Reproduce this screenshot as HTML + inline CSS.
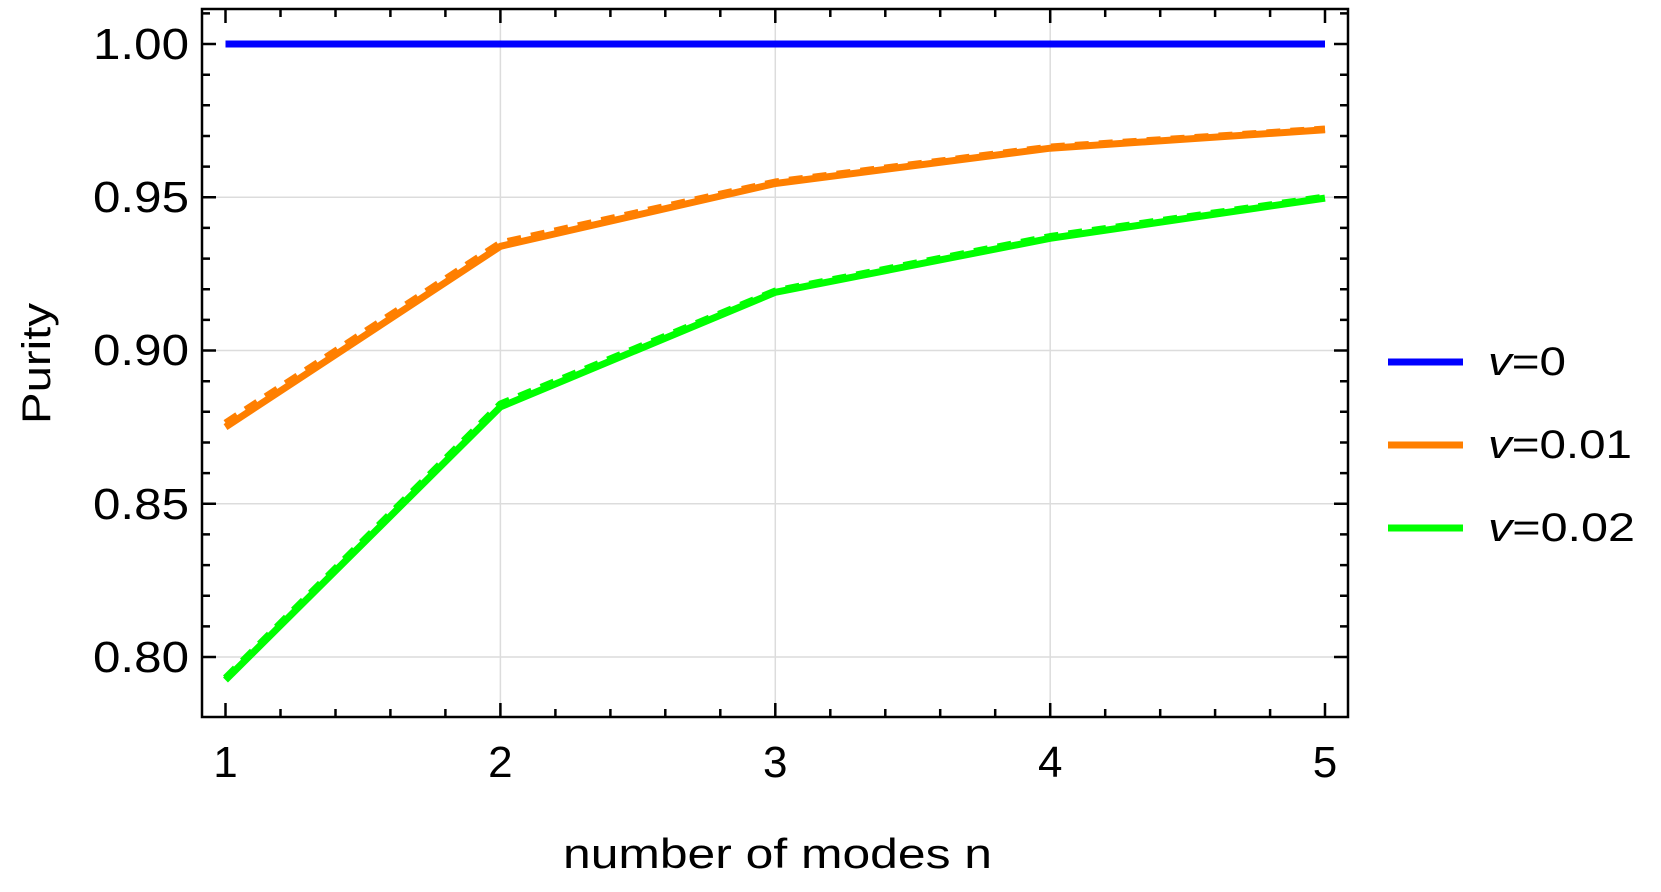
<!DOCTYPE html>
<html><head><meta charset="utf-8"><style>
html,body{margin:0;padding:0;background:#fff;}
svg{display:block;}
text{font-family:"Liberation Sans","DejaVu Sans",sans-serif;fill:#000;}
</style></head><body>
<svg width="1661" height="892" viewBox="0 0 1661 892" xmlns="http://www.w3.org/2000/svg">
<g stroke="#dcdcdc" stroke-width="1.5">
<line x1="202" x2="1348" y1="197.3" y2="197.3"/>
<line x1="202" x2="1348" y1="350.5" y2="350.5"/>
<line x1="202" x2="1348" y1="503.8" y2="503.8"/>
<line x1="202" x2="1348" y1="657" y2="657"/>
<line x1="500.4" x2="500.4" y1="9" y2="717"/>
<line x1="775.3" x2="775.3" y1="9" y2="717"/>
<line x1="1050.2" x2="1050.2" y1="9" y2="717"/>
</g>
<g stroke="#000" stroke-width="2.5">
<path d="M225.5 717v-14M280.5 717v-8M335.5 717v-8M390.4 717v-8M445.4 717v-8M500.4 717v-14M555.4 717v-8M610.4 717v-8M665.3 717v-8M720.3 717v-8M775.3 717v-14M830.3 717v-8M885.3 717v-8M940.2 717v-8M995.2 717v-8M1050.2 717v-14M1105.2 717v-8M1160.2 717v-8M1215.1 717v-8M1270.1 717v-8M1325 717v-14"/>
<path d="M225.5 9v14M280.5 9v8M335.5 9v8M390.4 9v8M445.4 9v8M500.4 9v14M555.4 9v8M610.4 9v8M665.3 9v8M720.3 9v8M775.3 9v14M830.3 9v8M885.3 9v8M940.2 9v8M995.2 9v8M1050.2 9v14M1105.2 9v8M1160.2 9v8M1215.1 9v8M1270.1 9v8M1325 9v14"/>
<path d="M202 13.4h8M202 44h14M202 74.7h8M202 105.3h8M202 136h8M202 166.6h8M202 197.3h14M202 227.9h8M202 258.6h8M202 289.2h8M202 319.9h8M202 350.5h14M202 381.2h8M202 411.8h8M202 442.5h8M202 473.1h8M202 503.8h14M202 534.4h8M202 565.1h8M202 595.7h8M202 626.4h8M202 657h14"/>
<path d="M1348 13.4h-8M1348 44h-14M1348 74.7h-8M1348 105.3h-8M1348 136h-8M1348 166.6h-8M1348 197.3h-14M1348 227.9h-8M1348 258.6h-8M1348 289.2h-8M1348 319.9h-8M1348 350.5h-14M1348 381.2h-8M1348 411.8h-8M1348 442.5h-8M1348 473.1h-8M1348 503.8h-14M1348 534.4h-8M1348 565.1h-8M1348 595.7h-8M1348 626.4h-8M1348 657h-14"/>
</g>
<rect x="202" y="9" width="1146" height="708" fill="none" stroke="#000" stroke-width="2.5"/>
<g fill="none" stroke-width="7" stroke-linejoin="round">
<polyline stroke="#0000ff" points="225.5,44 1325,44"/>
<polyline stroke="#ff7f00" stroke-dasharray="14 10" points="225.5,423 500.4,243 775.3,182 1050.2,147 1325,129"/>
<polyline stroke="#ff7f00" points="225.5,427.1 500.4,246.3 775.3,183.5 1050.2,148.2 1325,129.8"/>
<polyline stroke="#00ff00" stroke-dasharray="14 10" points="225.5,678 500.4,404 775.3,291 1050.2,236.5 1325,197"/>
<polyline stroke="#00ff00" points="225.5,680 500.4,406.9 775.3,292.3 1050.2,238.3 1325,198.1"/>
</g>
<g font-size="44">
<text x="93" y="59" textLength="96" lengthAdjust="spacingAndGlyphs">1.00</text>
<text x="93" y="212" textLength="96" lengthAdjust="spacingAndGlyphs">0.95</text>
<text x="93" y="365" textLength="96" lengthAdjust="spacingAndGlyphs">0.90</text>
<text x="93" y="519" textLength="96" lengthAdjust="spacingAndGlyphs">0.85</text>
<text x="93" y="672" textLength="96" lengthAdjust="spacingAndGlyphs">0.80</text>
</g>
<g font-size="44" text-anchor="middle">
<text x="225.5" y="777">1</text>
<text x="500.4" y="777">2</text>
<text x="775.3" y="777">3</text>
<text x="1050.2" y="777">4</text>
<text x="1325" y="777">5</text>
</g>
<text x="563" y="868" font-size="42" textLength="429" lengthAdjust="spacingAndGlyphs">number of modes n</text>
<text transform="translate(50,424) rotate(-90)" font-size="40" textLength="121" lengthAdjust="spacingAndGlyphs">Purity</text>
<g stroke-width="7">
<line x1="1388" x2="1463" y1="362" y2="362" stroke="#0000ff"/>
<line x1="1388" x2="1463" y1="445" y2="445" stroke="#ff7f00"/>
<line x1="1388" x2="1463" y1="528" y2="528" stroke="#00ff00"/>
</g>
<g font-size="40">
<text x="1488" y="375" textLength="78" lengthAdjust="spacingAndGlyphs"><tspan font-style="italic">v</tspan>=0</text>
<text x="1488" y="458" textLength="144" lengthAdjust="spacingAndGlyphs"><tspan font-style="italic">v</tspan>=0.01</text>
<text x="1488" y="541" textLength="147" lengthAdjust="spacingAndGlyphs"><tspan font-style="italic">v</tspan>=0.02</text>
</g>
</svg>
</body></html>
